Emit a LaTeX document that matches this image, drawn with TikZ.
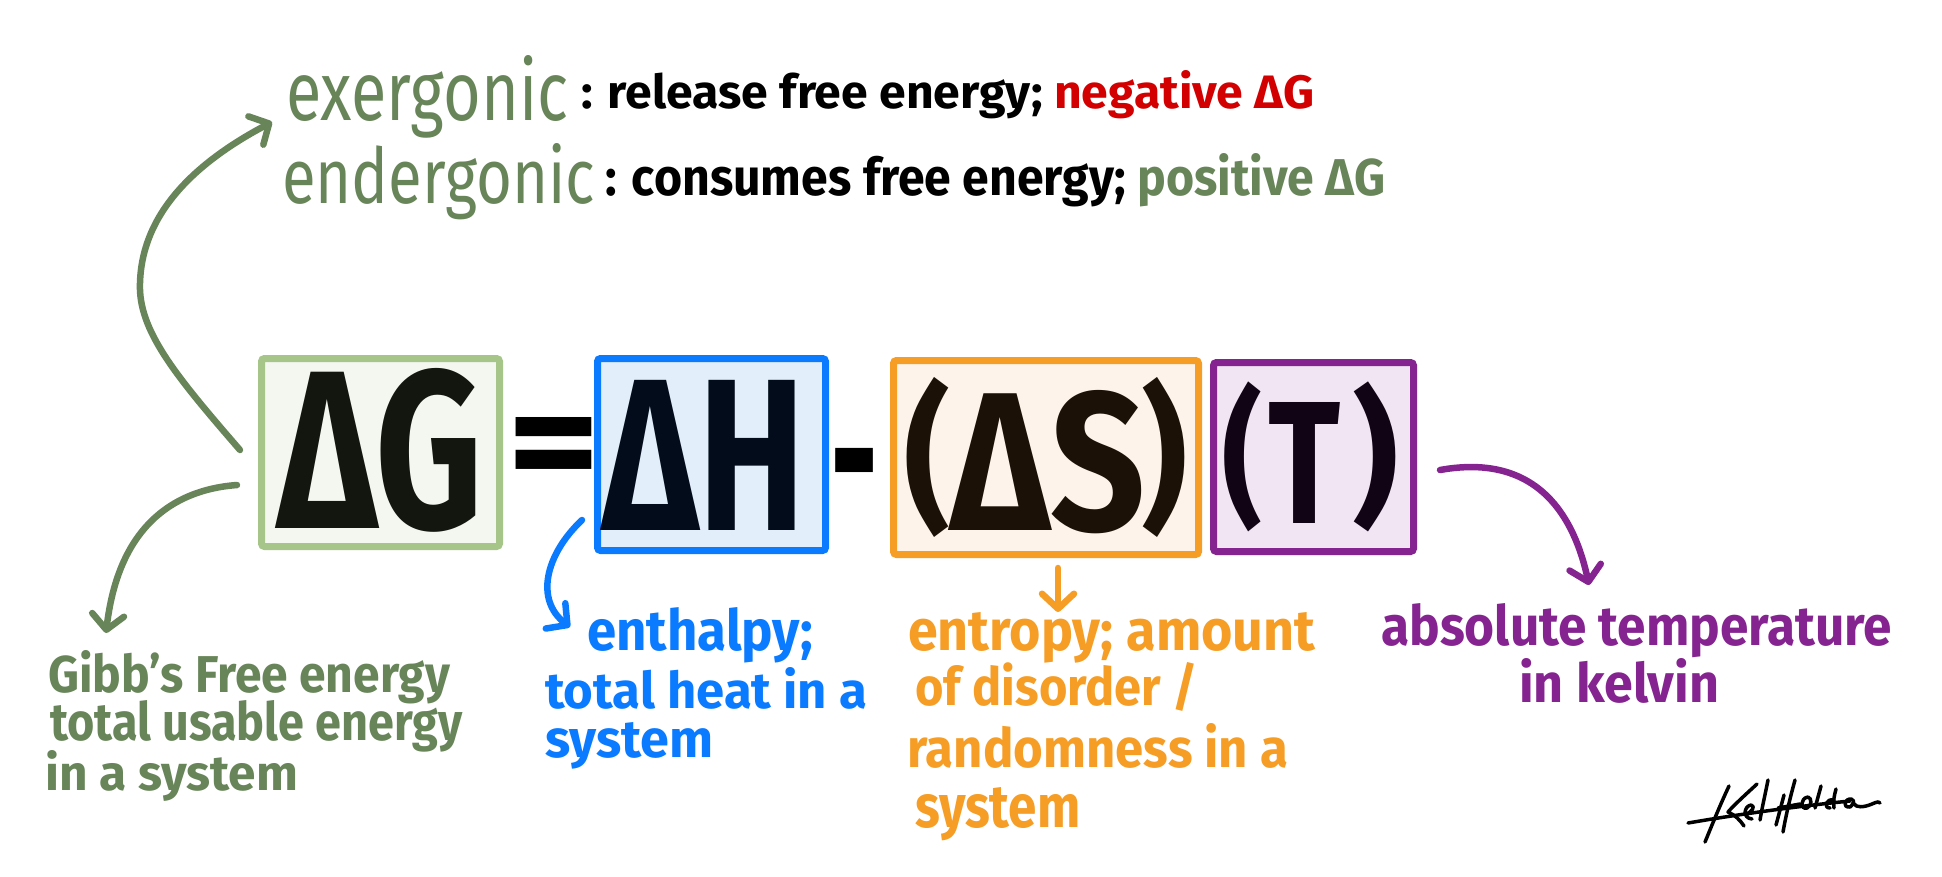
\documentclass[tikz,border=0pt]{standalone}
\usepackage{fontspec}
\setmainfont{Fira Sans}
\usepackage{graphicx}
\usetikzlibrary{arrows.meta}
\definecolor{gborder}{HTML}{A6C589}
\definecolor{gfill}{HTML}{F4F7F0}
\definecolor{bborder}{HTML}{0A7BFF}
\definecolor{bfill}{HTML}{E3EEFB}
\definecolor{oborder}{HTML}{F59D24}
\definecolor{ofill}{HTML}{FDF3EA}
\definecolor{pborder}{HTML}{852490}
\definecolor{pfill}{HTML}{F1E5F3}
\definecolor{tgreen}{HTML}{678558}
\definecolor{tred}{HTML}{D20000}
\definecolor{inkG}{HTML}{12160E}
\definecolor{inkH}{HTML}{020C1A}
\definecolor{inkS}{HTML}{1B1107}
\definecolor{inkT}{HTML}{100415}
\newcommand{\fitw}[3]{\resizebox{#1pt}{#2pt}{#3}}
\newcommand{\fitt}[3]{\resizebox*{#1pt}{#2pt}{#3}}
\tikzset{
  lbl/.style={inner sep=0pt, anchor=base west},
  glyph/.style={inner sep=0pt, anchor=base west, font=\bfseries},
  paren/.style={inner sep=0pt, anchor=north west, font=\bfseries},
  eqbox/.style={line width=7pt, rounded corners=3pt, inner sep=0pt},
  conn/.style={line width=6.5pt, line cap=round, -{Straight Barb[length=15pt,width=32pt,round]}},
}
\begin{document}
\begin{tikzpicture}[x=1pt,y=-1pt]
\useasboundingbox[fill=white] (0,0) rectangle (1942,876);

% boxes
\node[eqbox, draw=gborder, fill=gfill, minimum width=238pt, minimum height=188pt] (bG) at (380.5,452.5) {};
\node[eqbox, draw=bborder, fill=bfill, minimum width=228pt, minimum height=192pt] (bH) at (711.5,454.5) {};
\node[eqbox, draw=oborder, fill=ofill, minimum width=305pt, minimum height=194pt] (bS) at (1046,457.5) {};
\node[eqbox, draw=pborder, fill=pfill, minimum width=200pt, minimum height=189pt] (bT) at (1313.5,457) {};

% equation glyphs
\node[glyph, text=inkG] (tG) at (277,528) {\fitw{206}{160}{ΔG}};
\node[glyph] (teq) at (507,495) {\fitw{93}{78}{=}};
\node[glyph, text=inkH] (tH) at (602,530) {\fitw{203}{150}{ΔH}};
\node[glyph] (tmin) at (830,522) {\fitw{48}{74}{-}};
\node[paren, text=inkS] (pS1) at (904,377) {\fitt{46}{160}{(}};
\node[glyph, text=inkS] (tS) at (950,530) {\fitw{195}{140}{ΔS}};
\node[paren, text=inkS] (pS2) at (1141,377) {\fitt{46}{160}{)}};
\node[paren, text=inkT] (pT1) at (1222,382) {\fitt{40}{150}{(}};
\node[glyph, text=inkT] (tT) at (1268,523) {\fitw{72}{121}{T}};
\node[paren, text=inkT] (pT2) at (1352,382) {\fitt{46}{150}{)}};

% top definitions
\node[lbl, text=tgreen] (exer) at (286,120) {\fitw{282}{65}{exergonic}};
\node[lbl, font=\bfseries] (exdef) at (581,108) {\fitw{733}{38}{: release free energy; \textcolor{tred}{negative ΔG}}};
\node[lbl, text=tgreen] (ender) at (282,203) {\fitw{313}{60}{endergonic}};
\node[lbl, font=\bfseries] (endef) at (605,195) {\fitw{780}{42}{: consumes free energy; \textcolor{tgreen}{positive ΔG}}};

% lower labels
\node[lbl, font=\bfseries, text=tgreen] (g1) at (48,692) {\fitw{402}{42}{Gibb's Free energy}};
\node[lbl, font=\bfseries, text=tgreen] (g2) at (50,740) {\fitw{412}{40}{total usable energy}};
\node[lbl, font=\bfseries, text=tgreen] (g3) at (45,790) {\fitw{253}{40}{in a system}};

\node[lbl, font=\bfseries, text=bborder] (h1) at (587,650) {\fitw{226}{43}{enthalpy;}};
\node[lbl, font=\bfseries, text=bborder] (h2) at (545,708) {\fitw{322}{41}{total heat in a}};
\node[lbl, font=\bfseries, text=bborder] (h3) at (545,757) {\fitw{168}{35}{system}};

\node[lbl, font=\bfseries, text=oborder] (s1) at (908,650) {\fitw{407}{38}{entropy; amount}};
\node[lbl, font=\bfseries, text=oborder] (s2) at (915,705) {\fitw{283}{43}{of disorder /}};
\node[lbl, font=\bfseries, text=oborder] (s3) at (907,767) {\fitw{381}{44}{randomness in a}};
\node[lbl, font=\bfseries, text=oborder] (s4) at (915,827) {\fitw{165}{40}{system}};

\node[lbl, font=\bfseries, text=pborder] (k1) at (1381,645) {\fitw{511}{42}{absolute temperature}};
\node[lbl, font=\bfseries, text=pborder] (k2) at (1519,702) {\fitw{200}{44}{in kelvin}};

% connector end points
\coordinate (gupS) at (240,450);
\coordinate (gupE) at (272,122);
\coordinate (gdnS) at (237,485);
\coordinate (gdnE) at (106,633);
\coordinate (hS) at (582,520);
\coordinate (hE) at (570,627);
\coordinate (sS) at (1058,568);
\coordinate (sE) at (1058,612);
\coordinate (tS) at (1440,470);
\coordinate (tE) at (1589,585);

\draw[conn, draw=tgreen] (gupS) .. controls (175,375) and (138,330) .. (140,283) .. controls (142,210) and (200,160) .. (gupE);
\draw[conn, draw=tgreen] (gdnS) .. controls (170,490) and (118,530) .. (gdnE);
\draw[conn, draw=bborder] (hS) .. controls (545,555) and (535,600) .. (hE);
\draw[conn, draw=oborder] (sS) -- (sE);
\draw[conn, draw=pborder] (tS) .. controls (1540,452) and (1575,520) .. (tE);

% signature
\begin{scope}[line width=3.5pt, line cap=round, line join=round]
\draw (1688,823) .. controls (1740,814) and (1800,806) .. (1850,801);
\draw (1729,786) .. controls (1720,805) and (1712,825) .. (1705,842);
\draw (1757,784) .. controls (1745,795) and (1733,806) .. (1728,812) .. controls (1735,815) and (1740,820) .. (1744,826);
\draw (1745,815) .. controls (1752,812) and (1756,806) .. (1751,805) .. controls (1744,806) and (1742,818) .. (1752,819);
\draw (1768,780) .. controls (1765,795) and (1762,808) .. (1760,820);
\draw (1784,795) -- (1776,825);
\draw (1795,780) .. controls (1790,798) and (1786,815) .. (1783,832);
\draw (1778,808) -- (1800,804);
\draw (1808,797) .. controls (1800,798) and (1800,810) .. (1807,808) .. controls (1812,806) and (1812,798) .. (1808,797);
\draw (1821,786) -- (1815,808);
\draw (1836,789) .. controls (1834,796) and (1833,802) .. (1834,808);
\draw (1834,800) .. controls (1826,798) and (1823,808) .. (1830,808);
\draw (1852,799) .. controls (1844,798) and (1842,808) .. (1850,807) .. controls (1853,805) and (1854,801) .. (1853,800) .. controls (1853,806) and (1858,808) .. (1866,806) .. controls (1874,804) and (1878,800) .. (1880,803);
\end{scope}
\end{tikzpicture}
\end{document}
